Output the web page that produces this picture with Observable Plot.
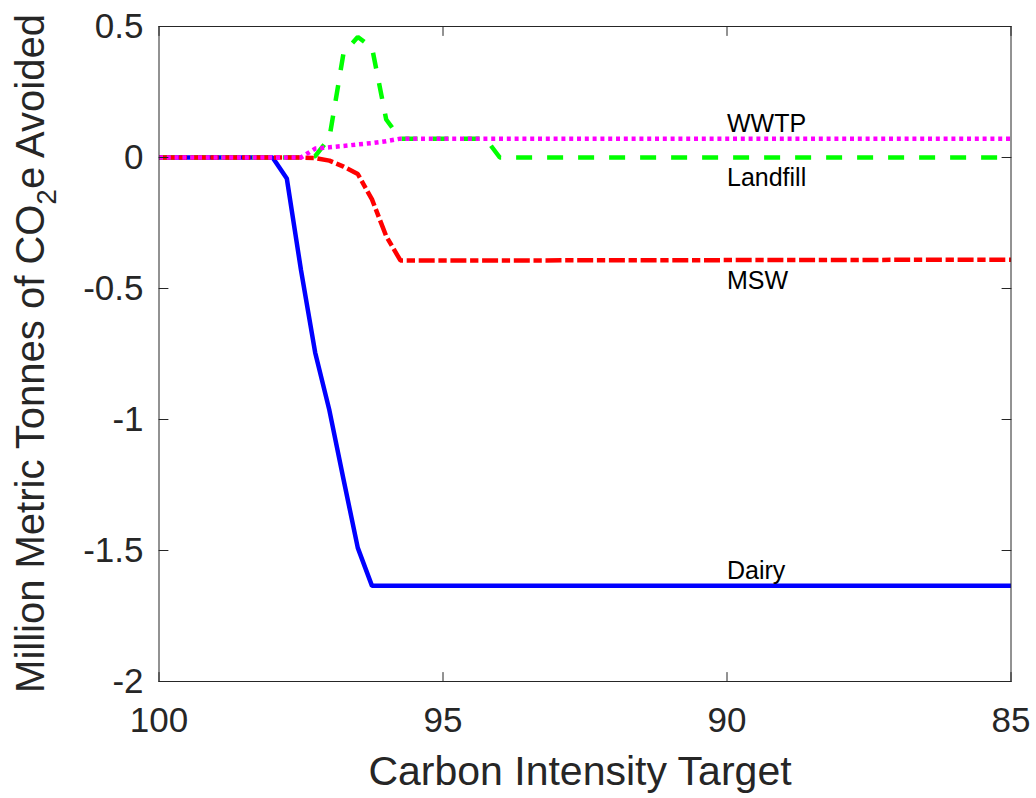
<!DOCTYPE html>
<html><head><meta charset="utf-8">
<script src="https://cdn.jsdelivr.net/npm/d3@7"></script>
<script src="https://cdn.jsdelivr.net/npm/@observablehq/plot@0.6"></script>
<style>body{margin:0;background:#fff;} svg{display:block}</style>
</head><body><div id="chart"></div>
<script>
// Carbon intensity target (x) breakpoints shared by all series
const target   = [100, 98, 97.75, 97.5, 97.25, 97, 96.75, 96.5, 96.25, 96, 95.75, 94.25, 94, 85];
const dairy    = [0, 0, -0.08, -0.43, -0.745, -0.965, -1.23, -1.49, -1.635, -1.635, -1.635, -1.635, -1.635, -1.635];
const landfill = [0, 0, 0, 0, 0.005, 0.075, 0.40, 0.46, 0.42, 0.145, 0.072, 0.072, 0, 0];
const msw      = [0, 0, 0, 0, -0.002, -0.012, -0.035, -0.063, -0.16, -0.30, -0.393, -0.393, -0.393, -0.39];
const wwtp     = [0, 0, 0, 0, 0.034, 0.039, 0.044, 0.05, 0.055, 0.062, 0.072, 0.072, 0.072, 0.072];

const seriesNames  = ["Dairy", "Landfill", "MSW", "WWTP"];
const seriesValues = [dairy, landfill, msw, wwtp];
const seriesColors = ["#0000ff", "#00ff00", "#ff0000", "#ff00ff"];
const seriesDash   = [null, "16,15", "16,3.7,8.3,3.7", "4,3.8"];

const labelNames = ["WWTP", "Landfill", "MSW", "Dairy"];
const labelX     = [90, 90, 90, 90];
const labelY     = [0.128, -0.08, -0.47, -1.58];

const xTicks = [100, 95, 90, 85];
const xTickLabels = ["100", "95", "90", "85"];
const yTicks = [0.5, 0, -0.5, -1, -1.5, -2];
const yTickLabels = ["0.5", "0", "-0.5", "-1", "-1.5", "-2"];
const xDomain = [100, 85];
const yDomain = [-2, 0.5];

const xTitle = "Carbon Intensity Target";
const yTitleParts = ["Million Metric Tonnes of CO", "2", "e Avoided"];

const tickShape = {draw(ctx, l) { ctx.moveTo(0, 0); ctx.lineTo(0, -l); }};
const tickLen = 9;
const axisColor = "#262626";

const lineMarks = seriesNames.map((name, i) =>
  Plot.line(target.map((t, j) => ({x: t, y: seriesValues[i][j]})), {
    x: "x", y: "y",
    stroke: seriesColors[i], strokeWidth: 4.5,
    strokeDasharray: seriesDash[i] || undefined,
    strokeLinecap: "butt", strokeLinejoin: "miter"
  })
);

const plot = Plot.plot({
  width: 1036, height: 798,
  marginLeft: 158.5, marginRight: 25.5, marginTop: 26, marginBottom: 117,
  x: {domain: xDomain},
  y: {domain: yDomain},
  style: {fontFamily: "'Liberation Sans', Arial, Helvetica, sans-serif", background: "white", color: axisColor, overflow: "visible"},
  marks: [
    ...lineMarks,
    Plot.frame({stroke: axisColor, strokeWidth: 1}),
    Plot.vector(xTicks, {x: d => d, frameAnchor: "bottom", length: tickLen, rotate: 0, anchor: "start", shape: tickShape, stroke: axisColor, strokeWidth: 1}),
    Plot.vector(xTicks, {x: d => d, frameAnchor: "top", length: tickLen, rotate: 180, anchor: "start", shape: tickShape, stroke: axisColor, strokeWidth: 1}),
    Plot.vector(yTicks, {y: d => d, frameAnchor: "left", length: tickLen, rotate: 90, anchor: "start", shape: tickShape, stroke: axisColor, strokeWidth: 1}),
    Plot.vector(yTicks, {y: d => d, frameAnchor: "right", length: tickLen, rotate: 270, anchor: "start", shape: tickShape, stroke: axisColor, strokeWidth: 1}),
    Plot.axisX(xTicks, {tickSize: 0, tickPadding: 26, fontSize: 35, label: null, tickFormat: d => xTickLabels[xTicks.indexOf(d)]}),
    Plot.axisY(yTicks, {tickSize: 0, tickPadding: 15.5, fontSize: 35, label: null, tickFormat: d => yTickLabels[yTicks.indexOf(d)]}),
    Plot.text([xTitle], {frameAnchor: "bottom", text: d => d, dy: 103, dx: -5, lineAnchor: "bottom", fontSize: 41, fill: axisColor}),
    Plot.text(labelNames, {x: (d, i) => labelX[i], y: (d, i) => labelY[i], text: d => d, textAnchor: "start", fontSize: 25, fill: "black"})
  ]
});

document.getElementById("chart").appendChild(plot);

// Rotated y-axis title with a true subscript
const svg = d3.select(plot);
const yt = svg.append("text")
  .attr("transform", "translate(44,353.5) rotate(-90)")
  .attr("text-anchor", "middle")
  .attr("font-size", 40)
  .attr("fill", axisColor);
yt.append("tspan").text(yTitleParts[0]);
yt.append("tspan").attr("font-size", 28).attr("dy", 12).text(yTitleParts[1]);
yt.append("tspan").attr("dy", -12).text(yTitleParts[2]);
</script>
</body></html>
